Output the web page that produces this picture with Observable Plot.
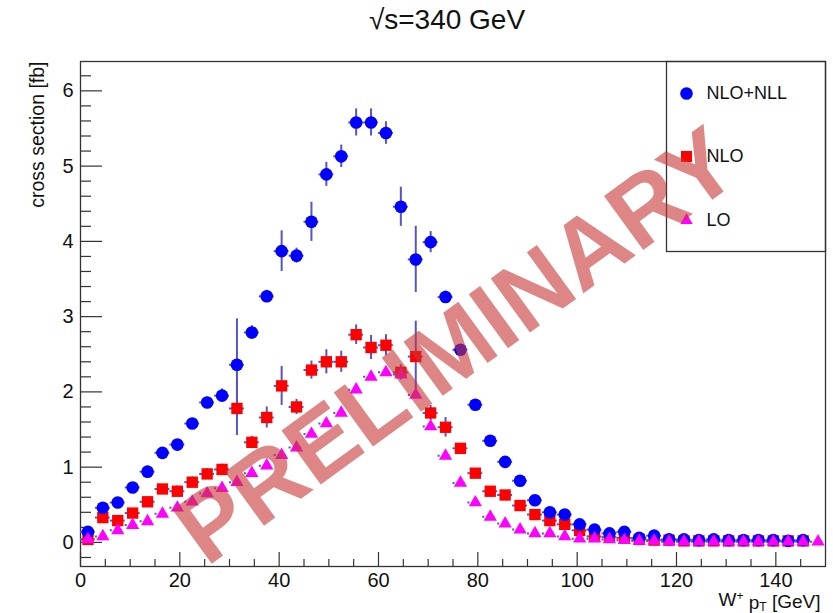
<!DOCTYPE html>
<html><head><meta charset="utf-8">
<script src="https://cdn.jsdelivr.net/npm/d3@7"></script>
<script src="https://cdn.jsdelivr.net/npm/@observablehq/plot@0.6"></script>
<style>body{margin:0;background:#fff;font-family:"Liberation Sans",Arial,sans-serif}</style>
</head><body><div id="chart"></div>
<script>
// W+ pT bin centres [GeV]
const ptBins = [1.5,4.5,7.5,10.5,13.5,16.5,19.5,22.5,25.5,28.5,31.5,34.5,37.5,40.5,43.5,46.5,49.5,52.5,55.5,58.5,
  61.5,64.5,67.5,70.5,73.5,76.5,79.5,82.5,85.5,88.5,91.5,94.5,97.5,100.5,103.5,106.5,109.5,112.5,115.5,118.5,
  121.5,124.5,127.5,130.5,133.5,136.5,139.5,142.5,145.5,148.5];
const halfBin = 1.5;

// NLO+NLL
const nloNll = [0.14,0.46,0.53,0.73,0.94,1.19,1.30,1.58,1.86,1.95,2.36,2.79,3.27,3.87,3.81,4.26,4.89,5.13,5.58,5.58,
  5.44,4.46,3.76,3.99,3.26,2.56,1.83,1.35,1.07,0.82,0.56,0.40,0.37,0.24,0.17,0.12,0.14,0.06,0.09,0.04,
  0.04,0.03,0.04,0.03,0.03,0.03,0.03,0.02,0.03];
const nloNllErr = [0.03,0.05,0.04,0.05,0.05,0.05,0.06,0.06,0.07,0.09,0.61,0.09,0.08,0.27,0.10,0.26,0.16,0.15,0.18,0.18,
  0.15,0.26,0.44,0.14,0.08,0.05,0.04,0.04,0.03,0.03,0.03,0.02,0.02,0.02,0.02,0.02,0.02,0.02,0.02,0.02,
  0.02,0.02,0.02,0.02,0.02,0.02,0.02,0.02,0.02];
// NLO
const nlo = [0.04,0.33,0.29,0.39,0.54,0.71,0.68,0.80,0.91,0.97,1.78,1.33,1.66,2.08,1.80,2.29,2.40,2.40,2.76,2.59,
  2.62,2.26,2.47,1.72,1.53,1.25,0.92,0.68,0.63,0.49,0.37,0.29,0.24,0.16,0.08,0.07,0.06,0.04,0.03,0.03,
  0.02,0.02,0.02,0.02,0.02,0.02,0.02,0.02,0.02];
const nloErr = [0.02,0.05,0.04,0.05,0.05,0.05,0.07,0.07,0.07,0.07,0.36,0.08,0.14,0.26,0.10,0.12,0.16,0.14,0.13,0.16,
  0.14,0.10,0.47,0.10,0.13,0.06,0.05,0.04,0.04,0.03,0.03,0.03,0.02,0.02,0.02,0.02,0.02,0.02,0.02,0.02,
  0.02,0.02,0.02,0.02,0.02,0.02,0.02,0.02,0.02];
// LO
const lo = [0.04,0.08,0.16,0.23,0.28,0.38,0.46,0.54,0.65,0.72,0.80,0.92,1.02,1.16,1.26,1.44,1.58,1.72,2.03,2.20,
  2.26,2.23,1.96,1.54,1.15,0.79,0.53,0.34,0.25,0.17,0.12,0.12,0.08,0.05,0.05,0.04,0.03,0.02,0.02,0.01,
  0.01,0.01,0.01,0.01,0.01,0.01,0.01,0.01,0.01,0.01];

const yMajor = [0,1,2,3,4,5,6];
const yMinor = [-0.2,0.2,0.4,0.6,0.8,1.2,1.4,1.6,1.8,2.2,2.4,2.6,2.8,3.2,3.4,3.6,3.8,4.2,4.4,4.6,4.8,5.2,5.4,5.6,5.8,6.2];
const xMajor = [0,20,40,60,80,100,120,140];
const xMinor = [5,10,15,25,30,35,45,50,55,65,70,75,85,90,95,105,110,115,125,130,135,145];
const legendLabels = ["NLO+NLL","NLO","LO"];
const titleText = "√s=340 GeV";
const yLabel = "cross section [fb]";
const xLabel = "W+ pT [GeV]";
const watermark = "PRELIMINARY";

const rows = (vals, errs) => vals.map((v,i) => ({x: ptBins[i], y: v, e: errs ? errs[i] : 0}));
const dNll = rows(nloNll, nloNllErr), dNlo = rows(nlo, nloErr), dLo = rows(lo, null);

const errColor = "#5555c4";
const font = "Liberation Sans, Arial, Helvetica, sans-serif";
const ink = "#111";

const plot = Plot.plot({
  width: 833, height: 613,
  marginLeft: 80, marginRight: 8, marginTop: 61, marginBottom: 47,
  x: {domain: [0,150]},
  y: {domain: [-0.32, 6.39]},
  style: {fontFamily: font, background: "white", overflow: "visible"},
  marks: [
    Plot.axisY({ticks: yMajor, tickSize: -22, tickPadding: 29, fontSize: 20, label: null, tickFormat: d => String(d), stroke: "#333", strokeWidth: 1.2, fill: ink}),
    Plot.axisY({ticks: yMinor, tickSize: -11, label: null, text: null, stroke: "#333", strokeWidth: 1.2}),
    Plot.axisX({ticks: xMajor, tickSize: -14, tickPadding: 20, fontSize: 20, label: null, tickFormat: d => String(d), stroke: "#333", strokeWidth: 1.2, fill: ink}),
    Plot.axisX({ticks: xMinor, tickSize: -7, label: null, text: null, stroke: "#333", strokeWidth: 1.2}),
    Plot.frame({stroke: "#333", strokeWidth: 1.3}),
    // error bars
    Plot.ruleY(dNll, {y: "y", x1: d => d.x - halfBin, x2: d => d.x + halfBin, stroke: errColor, strokeWidth: 2}),
    Plot.ruleX(dNll, {x: "x", y1: d => d.y - d.e, y2: d => d.y + d.e, stroke: errColor, strokeWidth: 2}),
    Plot.ruleY(dNlo, {y: "y", x1: d => d.x - halfBin, x2: d => d.x + halfBin, stroke: errColor, strokeWidth: 2}),
    Plot.ruleX(dNlo, {x: "x", y1: d => d.y - d.e, y2: d => d.y + d.e, stroke: errColor, strokeWidth: 2}),
    Plot.ruleY(dLo, {y: "y", x1: d => d.x - halfBin, x2: d => d.x + halfBin, stroke: errColor, strokeWidth: 2, strokeDasharray: "2,3"}),
    // markers
    Plot.dot(dNlo, {x: "x", y: "y", symbol: "square", r: 6.4, fill: "#ff0000", stroke: "none"}),
    Plot.dot(dNll, {x: "x", y: "y", symbol: "circle", r: 6.3, fill: "#0000ff", stroke: "none"}),
    Plot.dot(dLo, {x: "x", y: "y", symbol: "triangle", r: 4.9, fill: "#ff00ff", stroke: "none"}),
    // legend
    Plot.frame({insetLeft: 586, insetBottom: 315, stroke: "#333", strokeWidth: 1.3}),
    Plot.dot([legendLabels[0]], {frameAnchor: "top-right", dx: -139, dy: 32, symbol: "circle", r: 6.3, fill: "#0000ff"}),
    Plot.dot([legendLabels[1]], {frameAnchor: "top-right", dx: -139, dy: 95, symbol: "square", r: 6.2, fill: "#ff0000"}),
    Plot.dot([legendLabels[2]], {frameAnchor: "top-right", dx: -139, dy: 159, symbol: "triangle", r: 4.6, fill: "#ff00ff"}),
    Plot.text([legendLabels[0]], {text: d => d, frameAnchor: "top-right", dx: -119, dy: 32, textAnchor: "start", lineAnchor: "middle", fontSize: 18, fill: ink}),
    Plot.text([legendLabels[1]], {text: d => d, frameAnchor: "top-right", dx: -119, dy: 95, textAnchor: "start", lineAnchor: "middle", fontSize: 18, fill: ink}),
    Plot.text([legendLabels[2]], {text: d => d, frameAnchor: "top-right", dx: -119, dy: 159, textAnchor: "start", lineAnchor: "middle", fontSize: 18, fill: ink}),
    // titles
    Plot.text([titleText], {text: d => d, frameAnchor: "top", dx: -6, dy: -41, lineAnchor: "middle", fontSize: 28, fill: ink}),
    Plot.text([yLabel], {text: d => d, frameAnchor: "top-left", dx: -43, dy: 0, rotate: -90, textAnchor: "end", lineAnchor: "middle", fontSize: 19.5, fill: ink}),
    Plot.text([xLabel], {text: d => d, frameAnchor: "bottom-right", dx: -5, dy: 33, textAnchor: "end", lineAnchor: "middle", fontSize: 19, fill: ink}),
    // watermark
    Plot.text([watermark], {text: d => d, frameAnchor: "middle", dx: 4, dy: 33, rotate: -36, fontSize: 97, fontWeight: "bold", lineAnchor: "middle", fill: "rgb(200,53,53)", fillOpacity: 0.6})
  ]
});
document.getElementById("chart").appendChild(plot);

// x-axis title with superscript + and subscript T
d3.select(plot).selectAll("text").filter(function() { return this.textContent === xLabel; }).each(function() {
  const t = d3.select(this);
  t.text(null);
  t.append("tspan").text("W");
  t.append("tspan").attr("dy", "-0.45em").attr("font-size", "12px").text("+");
  t.append("tspan").attr("dy", "0.45em").text(" p");
  t.append("tspan").attr("dy", "0.15em").attr("font-size", "12px").text("T");
  t.append("tspan").attr("dy", "-0.15em").text(" [GeV]");
});
</script>
</body></html>
